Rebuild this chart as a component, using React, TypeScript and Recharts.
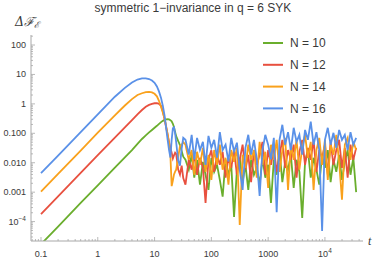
import React from 'react';
import { LineChart, Line, XAxis, YAxis, Legend } from 'recharts';

// shared time grid: coarse rise, then log-spaced late times
const tValues = [
  0.1, 0.2, 0.5, 1, 2, 3, 4, 5, 6, 7, 8, 9, 10, 11, 12, 13, 14, 15, 16, 17, 18, 19, 20, 21, 22, 23, 24, 26, 28, 30, 32,
  35, 40, 45, 50, 56, 63, 71, 79, 89, 100, 112, 126, 141, 158, 178, 200, 224, 251, 282, 316, 355, 398, 447, 501, 562,
  631, 708, 794, 891, 1000, 1122, 1259, 1413, 1585, 1778, 1995, 2239, 2512, 2818, 3162, 3548, 3981, 4467, 5012, 5623,
  6310, 7079, 7943, 8913, 10000, 11220, 12589, 14125, 15849, 17783, 19953, 22387, 25119, 28184, 31623, 35481,
];

const n10 = [
  0.000017, 0.000068, 0.00043, 0.0017, 0.0068, 0.0153, 0.027, 0.044, 0.064, 0.085, 0.107, 0.13, 0.155, 0.18, 0.21, 0.24,
  0.265, 0.285, 0.297, 0.3, 0.295, 0.28, 0.255, 0.21, 0.16, 0.11, 0.08, 0.055, 0.04, 0.025, 0.016,
  0.0126, 0.0058, 0.0186, 0.0031, 0.0126, 0.0018, 0.0107, 0.0039, 0.0012, 0.0147, 0.0049, 0.0085, 0.0026, 0.0007, 0.0126,
  0.0039, 0.0085, 0.000145, 0.0058, 0.0147, 0.0022, 0.0085, 0.0012, 0.0126, 0.0039, 0.0067, 0.0018, 0.0147, 0.0031, 0.0085,
  0.00043, 0.0126, 0.0039, 0.027, 0.0022, 0.0107, 0.0058, 0.0186, 0.0014, 0.0126, 0.0049, 0.000134, 0.0107, 0.027, 0.0031,
  0.0147, 0.0058, 0.0018, 0.0186, 0.0067, 0.027, 0.0022, 0.0126, 0.0049, 0.0186, 0.0026, 0.0107, 0.027, 0.0039, 0.0147, 0.001,
];

const n12 = [
  0.00018, 0.00072, 0.0045, 0.018, 0.071, 0.16, 0.28, 0.44, 0.62, 0.8, 0.92, 1.0, 1.05, 1.06, 1.0, 0.85,
  0.55, 0.3, 0.16, 0.09, 0.05, 0.032, 0.022, 0.014, 0.018, 0.022, 0.02, 0.006, 0.004, 0.008, 0.003,
  0.0018, 0.0126, 0.0058, 0.0186, 0.0039, 0.0147, 0.0067, 0.00043, 0.0126, 0.027, 0.0049, 0.0186, 0.0085, 0.0235, 0.0031,
  0.0147, 0.0067, 0.027, 0.0039, 0.0126, 0.041, 0.0058, 0.0186, 0.0022, 0.027, 0.0085, 0.0186, 0.051, 0.0039, 0.027,
  0.0085, 0.032, 0.0049, 0.0186, 0.06, 0.0067, 0.027, 0.0126, 0.041, 0.0031, 0.0235, 0.06, 0.0085, 0.032, 0.0126,
  0.06, 0.0049, 0.027, 0.0147, 0.041, 0.0039, 0.051, 0.0085, 0.027, 0.06, 0.0067, 0.032, 0.0031, 0.041, 0.0126, 0.032,
];

const n14 = [
  0.00105, 0.0042, 0.026, 0.105, 0.41, 0.88, 1.45, 2.0, 2.3, 2.5, 2.55, 2.45, 2.2, 1.8, 1.25, 0.8,
  0.5, 0.32, 0.17, 0.09, 0.045, 0.018, 0.0016, 0.0025, 0.004, 0.005, 0.0058, 0.015, 0.036, 0.04, 0.05,
  0.041, 0.0126, 0.027, 0.0039, 0.0235, 0.0085, 0.032, 0.0049, 0.0186, 0.0026, 0.027, 0.0085, 0.041, 0.0058, 0.0147,
  0.0018, 0.027, 0.0107, 0.032, 0.000077, 0.0186, 0.0067, 0.041, 0.0126, 0.027, 0.0031, 0.051, 0.0085, 0.0235, 0.0014,
  0.041, 0.0126, 0.06, 0.0049, 0.027, 0.07, 0.0012, 0.041, 0.0126, 0.06, 0.0058, 0.032, 0.089, 0.0147, 0.051,
  0.0012, 0.027, 0.07, 0.0085, 0.06, 0.0026, 0.041, 0.0186, 0.089, 0.0107, 0.00055, 0.041, 0.07, 0.0126, 0.051, 0.027,
];

const n16 = [
  0.0044, 0.0176, 0.11, 0.44, 1.75, 3.5, 5.3, 6.7, 7.3, 7.4, 7.0, 6.2, 5.2, 3.9, 2.6, 1.6,
  0.85, 0.4, 0.15, 0.06, 0.027, 0.015, 0.06, 0.15, 0.16, 0.1, 0.05, 0.012, 0.008, 0.03, 0.07,
  0.06, 0.019, 0.089, 0.013, 0.07, 0.027, 0.051, 0.0085, 0.082, 0.032, 0.06, 0.015, 0.11, 0.027, 0.041,
  0.011, 0.07, 0.024, 0.048, 0.0058, 0.0012, 0.032, 0.089, 0.019, 0.06, 0.013, 0.00075, 0.027, 0.089, 0.041,
  0.013, 0.07, 0.00021, 0.06, 0.195, 0.041, 0.11, 0.027, 0.154, 0.051, 0.089, 0.019, 0.13, 0.06, 0.25,
  0.041, 0.11, 0.027, 0.000048, 0.06, 0.154, 0.041, 0.104, 0.032, 0.13, 0.06, 0.089, 0.027, 0.11, 0.041, 0.07,
];

const series = [
  { key: 'n10', name: 'N = 10', color: '#6aae2d' },
  { key: 'n12', name: 'N = 12', color: '#e8503f' },
  { key: 'n14', name: 'N = 14', color: '#f9a11c' },
  { key: 'n16', name: 'N = 16', color: '#5a91e8' },
];

const data = tValues.map((t, i) => ({ t, n10: n10[i], n12: n12[i], n14: n14[i], n16: n16[i] }));

const xMajor = [0.1, 1, 10, 100, 1000, 10000];
const xTickLabels = ['0.1', '1', '10', '100', '1000', '10^4'];
const yMajor = [0.0001, 0.001, 0.01, 0.1, 1, 10, 100];
const yTickLabels = ['10^-4', '0.001', '0.010', '0.100', '1', '10', '100'];

const xDomain = [0.0667, 46800];
const yDomain = [2.19e-5, 219];

const font = '"Liberation Sans", Arial, sans-serif';
const axisGray = '#a8a8a8';
const textGray = '#3a3a3a';

const logTicks = (lo: number, hi: number) => {
  const out: number[] = [];
  for (let e = -6; e <= 6; e++) {
    for (let m = 1; m <= 9; m++) {
      const v = m * Math.pow(10, e);
      if (v >= lo && v <= hi) out.push(v);
    }
  }
  return out;
};

const majorLabel = (v: number, majors: number[], labels: string[]) => {
  const lg = Math.log10(v);
  if (Math.abs(lg - Math.round(lg)) > 1e-6) return null;
  const idx = majors.findIndex((m) => Math.abs(Math.log10(m) - lg) < 1e-6);
  return idx >= 0 ? labels[idx] : null;
};

const TickText = ({ x, y, label, anchor }: { x: number; y: number; label: string; anchor: string }) => {
  if (label.startsWith('10^')) {
    return (
      <text x={x} y={y} textAnchor={anchor} fontSize={9} fontFamily={font} fill={textGray}>
        10
        <tspan dy={-4} fontSize={6.5}>{label.slice(3).replace('-', '\u2212')}</tspan>
      </text>
    );
  }
  return (
    <text x={x} y={y} textAnchor={anchor} fontSize={9} fontFamily={font} fill={textGray}>
      {label}
    </text>
  );
};

const XTick = (props: any) => {
  const { x, y, payload } = props;
  const label = majorLabel(payload.value, xMajor, xTickLabels);
  return (
    <g>
      <line x1={x} y1={y} x2={x} y2={y - (label ? 4 : 2)} stroke={axisGray} strokeWidth={0.8} />
      {label && <TickText x={x} y={y + 16} label={label} anchor="middle" />}
    </g>
  );
};

const YTick = (props: any) => {
  const { x, y, payload } = props;
  const label = majorLabel(payload.value, yMajor, yTickLabels);
  return (
    <g>
      <line x1={x} y1={y} x2={x + (label ? 4 : 2)} y2={y} stroke={axisGray} strokeWidth={0.8} />
      {label && <TickText x={x - 5} y={y + 3} label={label} anchor="end" />}
    </g>
  );
};

const renderLegend = () => (
  <svg width={120} height={90}>
    {series.map((s, i) => (
      <g key={s.key}>
        <line x1={5} x2={25} y1={10 + i * 21.8} y2={10 + i * 21.8} stroke={s.color} strokeWidth={2} />
        <text x={32} y={14.3 + i * 21.8} fontSize={12} fontFamily={font} fill={textGray}>
          {s.name}
        </text>
      </g>
    ))}
  </svg>
);

export default function App() {
  return (
    <div style={{ position: 'absolute', left: 0, top: 0, width: 374, height: 263 }}>
      <LineChart width={374} height={263} data={data} margin={{ top: 35, right: 11, bottom: 0, left: 0 }}>
        <XAxis
          dataKey="t"
          type="number"
          scale="log"
          domain={xDomain}
          allowDataOverflow
          ticks={logTicks(xDomain[0], xDomain[1])}
          interval={0}
          tickSize={0}
          tickMargin={0}
          tick={<XTick />}
          height={22}
          stroke={axisGray}
        />
        <YAxis
          type="number"
          scale="log"
          domain={yDomain}
          allowDataOverflow
          ticks={logTicks(yDomain[0], yDomain[1])}
          interval={0}
          tickSize={0}
          tickMargin={0}
          tick={<YTick />}
          width={31}
          stroke={axisGray}
        />
        <Legend
          layout="vertical"
          align="center"
          verticalAlign="middle"
          content={renderLegend}
          wrapperStyle={{ left: 258, top: 33, width: 120, height: 90 }}
        />
        {series.map((s) => (
          <Line
            key={s.key}
            dataKey={s.key}
            name={s.name}
            type="linear"
            stroke={s.color}
            strokeWidth={1.8}
            dot={false}
            isAnimationActive={false}
          />
        ))}
      </LineChart>
      <svg width={374} height={263} style={{ position: 'absolute', left: 0, top: 0, pointerEvents: 'none' }}>
        <text x={193} y={12} textAnchor="middle" fontSize={12} fontFamily={font} fill={textGray}>
          symmetric 1{'\u2212'}invariance in q = 6 SYK
        </text>
        <text x={15} y={26} fontSize={12.5} fontStyle="italic" fontFamily='"DejaVu Serif", serif' fill={textGray}>
          {'\u0394\u2131'}
          <tspan dy={2} fontSize={9}>{'\u2130'}</tspan>
        </text>
        <text x={368} y={245} fontSize={12} fontStyle="italic" fontFamily='"Liberation Serif", serif' fill={textGray}>
          t
        </text>
      </svg>
    </div>
  );
}
